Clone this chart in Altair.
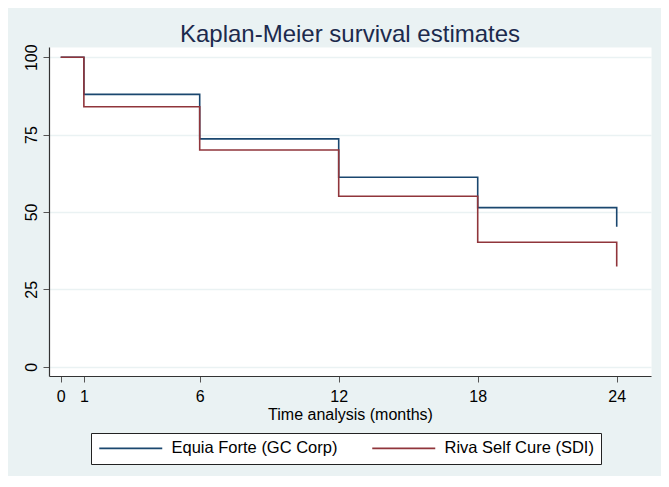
import altair as alt
import pandas as pd

# Kaplan-Meier step data (months, survival %)
times = [0, 1, 6, 12, 18, 24, 24]
equia = [100, 88, 73.6, 61.2, 51.4, 51.4, 45.2]
riva = [100, 84, 70, 55.1, 40.2, 40.2, 32.4]
groups = ["Equia Forte (GC Corp)", "Riva Self Cure (SDI)"]
colors = ["#1a476f", "#90353b"]
x_ticks = [0, 1, 6, 12, 18, 24]
y_ticks = [0, 25, 50, 75, 100]

rows = []
for g, vals in zip(groups, [equia, riva]):
    for i, (t, v) in enumerate(zip(times, vals)):
        rows.append({"group": g, "time": t, "surv": v, "idx": i})
df = pd.DataFrame(rows)

BG = "#EAF2F3"
FONT = "Liberation Sans"

chart = (
    alt.Chart(df)
    .mark_line(interpolate="step-after", strokeWidth=1.6)
    .encode(
        x=alt.X(
            "time:Q",
            scale=alt.Scale(domain=[-0.505, 25.48], nice=False, zero=False),
            axis=alt.Axis(
                values=x_ticks,
                title="Time analysis (months)",
                grid=False,
                tickSize=6,
                labelPadding=6,
                titlePadding=2,
                labelFlush=False,
            ),
        ),
        y=alt.Y(
            "surv:Q",
            scale=alt.Scale(domain=[-3.0, 103.3], nice=False, zero=False),
            axis=alt.Axis(
                values=y_ticks,
                title=None,
                grid=True,
                gridColor=BG,
                gridWidth=1.5,
                tickSize=6,
                labelAngle=270,
                labelAlign="center",
                labelBaseline="bottom",
                labelPadding=4,
                labelFlush=False,
            ),
        ),
        color=alt.Color(
            "group:N",
            scale=alt.Scale(domain=groups, range=colors),
            legend=alt.Legend(
                title=None,
                orient="none",
                legendX=42,
                legendY=386,
                direction="horizontal",
                symbolType="M-1,0H8",
                symbolSize=196,
                symbolStrokeWidth=1.6,
                labelOffset=57,
                columnPadding=31,
                padding=7,
                fillColor="white",
                strokeColor="#222222",
                labelFontSize=16.5,
                labelFont=FONT,
                labelColor="#000000",
                labelLimit=400,
            ),
        ),
        order=alt.Order("idx:Q"),
    )
    .properties(
        width=602,
        height=329,
        title=alt.TitleParams(
            "Kaplan-Meier survival estimates",
            fontSize=24,
            font=FONT,
            fontWeight="normal",
            color="#1c2a4d",
            anchor="middle",
            offset=6,
            dy=9,
        ),
        autosize=alt.AutoSizeParams(type="none"),
        padding={"left": 41, "top": 39, "right": 10, "bottom": 100},
    )
    .configure(background=BG)
    .configure_view(fill="white", stroke="transparent")
    .configure_axis(
        labelFont=FONT,
        titleFont=FONT,
        labelFontSize=16,
        titleFontSize=16,
        titleFontWeight="normal",
        labelColor="#000000",
        titleColor="#000000",
        domainColor="#333333",
        tickColor="#555555",
        domainWidth=1.2,
    )
)

chart.save("out.html", embed_options={"renderer": "svg", "actions": False})
